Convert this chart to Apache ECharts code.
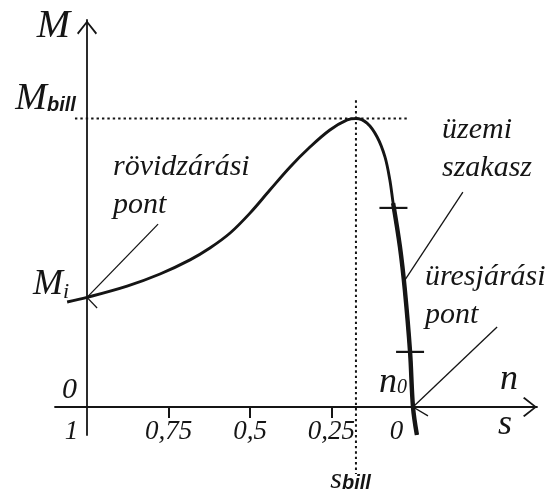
<!DOCTYPE html>
<html>
<head>
<meta charset="utf-8">
<script src="https://cdn.jsdelivr.net/npm/echarts@6/dist/echarts.min.js"></script>
<style>
  html, body { margin: 0; padding: 0; background: #ffffff; }
  #chart { width: 552px; height: 493px; }
</style>
</head>
<body>
<div id="chart"></div>
<script>
// Horizontal axis runs in speed units n/n0; its tick labels show slip s = 1 - n/n0.
const speedTicks = [0, 0.25, 0.5, 0.75, 1];
const slipTickLabels = ['1', '0,75', '0,5', '0,25', '0'];

// Torque–speed characteristic, torque relative to the breakdown torque
const curveSpeed  = [-0.061, 0, 0.123, 0.224, 0.316, 0.377, 0.439, 0.500, 0.561, 0.623, 0.684, 0.745, 0.798, 0.825, 0.859, 0.890, 0.914, 0.929, 0.939, 0.960, 0.975, 0.991, 1.000, 1.012];
const curveTorque = [0.364, 0.38, 0.419, 0.461, 0.510, 0.551, 0.603, 0.672, 0.752, 0.832, 0.901, 0.960, 0.995, 1.000, 0.984, 0.936, 0.867, 0.787, 0.707, 0.555, 0.406, 0.191, 0, -0.097];

// Characteristic points
const Mbill = 1;        // breakdown torque
const Mi = 0.38;        // starting (locked-rotor) torque
const sBill = 0.175;    // breakdown slip
const operatingSpeed  = [0.940, 0.991];   // limits of the operating section
const operatingTorque = [0.690, 0.191];

// Text notes: baseline anchor in data units
const notes = [
  { text: 'M',            n: -0.052, m: 1.272,  size: 40, align: 'right' },
  { text: 'M',            n: -0.123, m: 1.0225, size: 38, align: 'right' },
  { text: 'bill',         n: -0.123, m: 1.0225, size: 20, align: 'left', sans: true },
  { text: 'M',            n: -0.0736, m: 0.3813, size: 36, align: 'right' },
  { text: 'i',            n: -0.0736, m: 0.3709, size: 22, align: 'left' },
  { text: '0',            n: -0.0307, m: 0.0243, size: 30, align: 'right' },
  { text: 'n',            n: 1.2669, m: 0.052,  size: 36, align: 'left' },
  { text: 's',            n: 1.2607, m: -0.104, size: 36, align: 'left' },
  { text: 'n',            n: 0.9509, m: 0.0416, size: 36, align: 'right' },
  { text: '0',            n: 0.9509, m: 0.0416, size: 20, align: 'left' },
  { text: 's',            n: 0.7822, m: -0.2877, size: 30, align: 'right' },
  { text: 'bill',         n: 0.7822, m: -0.2877, size: 20, align: 'left', sans: true },
  { text: 'rövidzárási',  n: 0.0798, m: 0.7972, size: 30, align: 'left' },
  { text: 'pont',         n: 0.0798, m: 0.6655, size: 30, align: 'left' },
  { text: 'üzemi',        n: 1.0890, m: 0.9255, size: 30, align: 'left' },
  { text: 'szakasz',      n: 1.0890, m: 0.7938, size: 30, align: 'left' },
  { text: 'üresjárási',   n: 1.0368, m: 0.4159, size: 30, align: 'left' },
  { text: 'pont',         n: 1.0368, m: 0.2842, size: 30, align: 'left' }
];

// Leader lines from the notes to the characteristic points
const leaders = [
  [[0, Mi], [0.218, 0.634]],
  [[0, Mi], [0.031, 0.343]],
  [[1.153, 0.745], [0.975, 0.440]],
  [[1.258, 0.277], [1, 0]],
  [[1, 0], [1.046, -0.031]]
];
const guideExtent = { left: -0.037, right: 0.99, top: 1.063, bottom: -0.232 };

const ink = '#151515';
const serif = '"Liberation Serif", "DejaVu Serif", serif';
const sans = '"Liberation Sans", "DejaVu Sans", sans-serif';

const curve = curveSpeed.map((n, i) => [n, curveTorque[i]]);
const operating = curve.filter(p => p[0] >= operatingSpeed[0] - 0.002);

function renderDecor(params, api) {
  const P = (n, m) => api.coord([n, m]);
  const kids = [];
  const seg = (a, b, style) => kids.push({
    type: 'line', shape: { x1: a[0], y1: a[1], x2: b[0], y2: b[1] }, style: style
  });
  const dotted = { stroke: ink, lineWidth: 2, lineDash: [2.4, 3] };
  // breakdown guides
  seg(P(guideExtent.left, Mbill), P(guideExtent.right, Mbill), dotted);
  seg(P(1 - sBill, guideExtent.top), P(1 - sBill, guideExtent.bottom), dotted);
  // leader lines
  leaders.forEach(l => seg(P(l[0][0], l[0][1]), P(l[1][0], l[1][1]), { stroke: ink, lineWidth: 1.3 }));
  // operating section limits
  operatingSpeed.forEach((n, i) => {
    const c = P(n, operatingTorque[i]);
    seg([c[0] - 14, c[1]], [c[0] + 14, c[1]], { stroke: ink, lineWidth: 2.2 });
  });
  // notes
  notes.forEach(t => {
    const c = P(t.n, t.m);
    kids.push({
      type: 'text', x: c[0], y: c[1] - 0.34 * t.size,
      style: {
        text: t.text, fill: ink, align: t.align, verticalAlign: 'middle',
        fontSize: t.size, fontStyle: 'italic', fontWeight: t.sans ? 'bold' : 'normal',
        fontFamily: t.sans ? sans : serif
      }
    });
  });
  return { type: 'group', children: kids };
}

const arrowPath = 'path://M10,0L20,12.6L18.7,14L10,2.7L1.3,14L0,12.6Z';
const labelFont = { fontFamily: serif, fontStyle: 'italic', fontSize: 27, color: ink };

const chart = echarts.init(document.getElementById('chart'), null, { renderer: 'canvas' });
chart.setOption({
  animation: false,
  backgroundColor: '#ffffff',
  grid: { left: 55, right: 15, top: 20, bottom: 58, outerBoundsMode: 'none' },
  xAxis: {
    type: 'value', min: -0.0982, max: 1.3804,
    axisLine: {
      onZero: true, lineStyle: { color: ink, width: 1.8 },
      symbol: ['none', arrowPath], symbolSize: [20, 14], symbolOffset: [0, -7]
    },
    axisTick: { show: true, customValues: [0.25, 0.5, 0.75], length: 11, lineStyle: { color: ink, width: 2 } },
    axisLabel: Object.assign({
      customValues: speedTicks, margin: -17,
      formatter: v => {
        const i = speedTicks.findIndex(t => Math.abs(t - v) < 1e-6);
        if (i === 0) return '{first|' + slipTickLabels[i] + '}';
        if (i === speedTicks.length - 1) return '{last|' + slipTickLabels[i] + '}';
        return '{mid|' + slipTickLabels[i] + '}';
      },
      rich: {
        mid: Object.assign({}, labelFont),
        first: Object.assign({ padding: [0, 31, 0, 0] }, labelFont),
        last: Object.assign({ padding: [0, 33, 0, 0] }, labelFont)
      }
    }, labelFont),
    splitLine: { show: false }
  },
  yAxis: {
    type: 'value', min: -0.0971, max: 1.3414,
    axisLine: {
      onZero: true, lineStyle: { color: ink, width: 1.8 },
      symbol: ['none', arrowPath], symbolSize: [20, 15], symbolOffset: [0, -7.5]
    },
    axisTick: { show: false },
    axisLabel: { show: false },
    splitLine: { show: false }
  },
  series: [
    {
      type: 'line', data: curve, smooth: 0.35, symbol: 'none', clip: false,
      lineStyle: { color: ink, width: 2.9 }, z: 3
    },
    {
      type: 'line', data: operating, smooth: 0.35, symbol: 'none', clip: false,
      lineStyle: { color: ink, width: 4.4 }, z: 4
    },
    {
      type: 'custom', data: [[0, 0]], renderItem: renderDecor, clip: false, z: 5, silent: true
    }
  ]
});
</script>
</body>
</html>
